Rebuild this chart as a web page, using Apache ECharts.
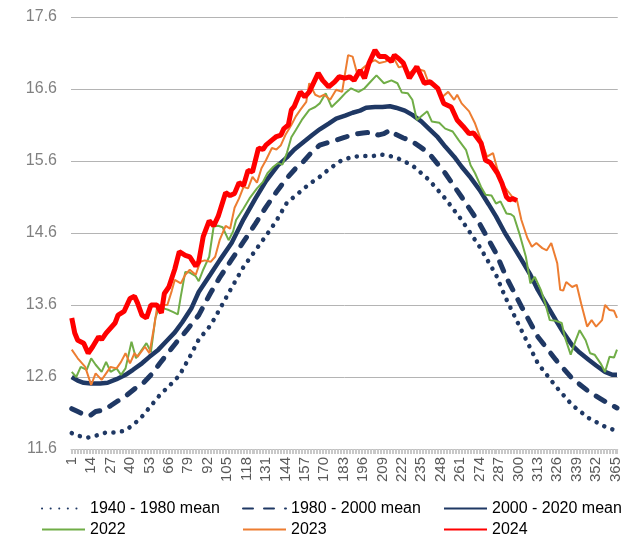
<!DOCTYPE html>
<html>
<head>
<meta charset="utf-8">
<script src="https://cdn.jsdelivr.net/npm/echarts@6/dist/echarts.min.js"></script>
<style>
  html, body { margin: 0; padding: 0; background: #fff; }
  #chart { width: 623px; height: 537px; }
</style>
</head>
<body>
<div id="chart"></div>
<script>
// y axis ticks
var yTicks = [11.6, 12.6, 13.6, 14.6, 15.6, 16.6, 17.6];

// day-of-year categories 1..366
var days = [];
for (var i = 1; i <= 366; i++) days.push(String(i));

var seriesNames = ['1940 - 1980 mean', '1980 - 2000 mean', '2000 - 2020 mean', '2022', '2023', '2024'];

// 1940 - 1980 mean
var m4080Days = [1, 6, 12, 18, 24, 30, 36, 42, 48, 54, 60, 66, 73, 80, 86, 94, 100, 108, 116, 124, 131, 138, 145, 152, 160, 167, 174, 181, 189, 196, 203, 208, 214, 220, 229, 240, 251, 262, 274, 285, 291, 302, 313, 325, 336, 347, 358, 366];
var m4080Vals = [11.82, 11.78, 11.76, 11.79, 11.83, 11.83, 11.85, 11.93, 12.05, 12.2, 12.35, 12.47, 12.62, 12.88, 13.12, 13.32, 13.54, 13.84, 14.13, 14.36, 14.56, 14.77, 15.02, 15.14, 15.28, 15.38, 15.5, 15.6, 15.66, 15.67, 15.67, 15.69, 15.67, 15.63, 15.54, 15.34, 15.08, 14.78, 14.41, 14.02, 13.72, 13.25, 12.79, 12.47, 12.21, 12.03, 11.91, 11.85];

// 1980 - 2000 mean
var m8000Days = [1, 5, 9, 13, 17, 22, 27, 32, 38, 44, 49, 55, 60, 66, 71, 78, 86, 94, 100, 108, 116, 124, 131, 138, 145, 151, 156, 162, 167, 173, 178, 184, 189, 196, 203, 206, 210, 214, 218, 223, 229, 234, 240, 251, 262, 274, 285, 292, 302, 313, 325, 336, 347, 358, 366];
var m8000Vals = [12.16, 12.12, 12.08, 12.06, 12.12, 12.14, 12.2, 12.27, 12.35, 12.45, 12.52, 12.65, 12.79, 12.95, 13.08, 13.25, 13.46, 13.77, 13.98, 14.23, 14.48, 14.73, 14.96, 15.17, 15.36, 15.5, 15.59, 15.73, 15.82, 15.86, 15.89, 15.93, 15.97, 15.99, 16.0, 15.96, 15.98, 16.03, 15.97, 15.92, 15.87, 15.8, 15.71, 15.43, 15.1, 14.73, 14.32, 13.98, 13.58, 13.16, 12.84, 12.58, 12.4, 12.26, 12.17];

// 2000 - 2020 mean
var m0020Days = [1, 5, 9, 14, 20, 25, 31, 37, 42, 48, 53, 59, 64, 70, 75, 81, 86, 94, 100, 108, 116, 124, 131, 139, 145, 150, 156, 162, 167, 173, 178, 184, 189, 194, 198, 204, 209, 214, 218, 224, 229, 235, 240, 246, 251, 257, 262, 268, 274, 280, 285, 291, 297, 302, 308, 313, 319, 325, 330, 336, 341, 347, 352, 358, 363, 366];
var m0020Vals = [12.6, 12.55, 12.52, 12.51, 12.51, 12.52, 12.57, 12.63, 12.7, 12.79, 12.88, 12.98, 13.09, 13.22, 13.36, 13.55, 13.78, 14.03, 14.22, 14.46, 14.79, 15.08, 15.32, 15.54, 15.65, 15.76, 15.86, 15.96, 16.04, 16.12, 16.19, 16.23, 16.27, 16.3, 16.34, 16.35, 16.35, 16.36, 16.34, 16.3, 16.24, 16.15, 16.05, 15.93, 15.8, 15.66, 15.52, 15.37, 15.2, 15.0, 14.83, 14.6, 14.4, 14.23, 14.02, 13.81, 13.6, 13.39, 13.22, 13.04, 12.94, 12.84, 12.76, 12.67, 12.63, 12.63];

// 2022
var y2022Days = [1, 4, 7, 11, 14, 17, 21, 24, 27, 31, 34, 37, 41, 44, 47, 51, 54, 57, 60, 63, 66, 69, 72, 74, 77, 80, 84, 86, 89, 93, 96, 99, 102, 106, 109, 111, 116, 120, 125, 129, 132, 136, 139, 142, 145, 148, 151, 155, 160, 164, 167, 171, 175, 180, 184, 188, 193, 197, 201, 205, 210, 215, 219, 222, 226, 229, 232, 236, 239, 242, 247, 251, 256, 260, 265, 268, 271, 275, 278, 282, 285, 288, 292, 295, 297, 301, 305, 308, 311, 315, 318, 321, 325, 329, 331, 335, 338, 341, 345, 348, 351, 355, 358, 361, 364, 366];
var y2022Vals = [12.67, 12.6, 12.74, 12.7, 12.86, 12.77, 12.67, 12.81, 12.67, 12.72, 12.63, 12.72, 13.09, 12.86, 12.95, 13.07, 12.95, 13.42, 13.6, 13.55, 13.53, 13.5, 13.47, 13.72, 14.06, 14.05, 14.0, 13.93, 14.09, 14.27, 14.69, 14.7, 14.68, 14.5, 14.62, 14.78, 14.94, 15.08, 15.22, 15.31, 15.43, 15.52, 15.57, 15.55, 15.71, 15.93, 16.03, 16.17, 16.31, 16.35, 16.4, 16.54, 16.35, 16.45, 16.54, 16.61, 16.56, 16.61, 16.7, 16.79, 16.68, 16.72, 16.68, 16.55, 16.54, 16.45, 16.17, 16.24, 16.29, 16.15, 16.13, 16.05, 16.01, 15.89, 15.75, 15.54, 15.43, 15.24, 15.13, 15.12, 15.01, 15.04, 14.87, 14.86, 14.83, 14.57, 14.27, 13.9, 13.99, 13.81, 13.62, 13.39, 13.38, 13.35, 13.16, 12.91, 13.09, 13.25, 13.11, 12.93, 12.91, 12.79, 12.67, 12.88, 12.87, 12.98];

// 2023
var y2023Days = [1, 5, 10, 14, 17, 21, 24, 27, 31, 34, 37, 40, 43, 45, 50, 53, 56, 58, 61, 65, 68, 70, 74, 77, 80, 84, 87, 90, 94, 97, 100, 104, 107, 110, 113, 116, 119, 122, 125, 128, 131, 135, 138, 141, 144, 148, 151, 154, 158, 160, 164, 167, 170, 174, 178, 182, 184, 186, 189, 192, 196, 200, 204, 207, 211, 216, 220, 223, 227, 231, 237, 240, 245, 249, 253, 257, 259, 262, 267, 271, 275, 279, 283, 286, 289, 293, 296, 299, 302, 306, 309, 312, 316, 319, 322, 326, 328, 330, 332, 336, 339, 342, 346, 349, 352, 356, 358, 361, 364, 366];
var y2023Vals = [12.98, 12.86, 12.74, 12.49, 12.65, 12.56, 12.65, 12.74, 12.72, 12.81, 12.93, 12.79, 12.93, 12.88, 13.02, 12.93, 13.28, 13.55, 13.6, 13.6, 13.8, 13.95, 13.9, 14.02, 14.09, 14.02, 14.2, 14.22, 14.2, 14.27, 14.5, 14.7, 14.66, 14.95, 15.08, 15.24, 15.22, 15.38, 15.3, 15.5, 15.61, 15.78, 15.76, 15.82, 15.96, 16.1, 16.22, 16.31, 16.42, 16.68, 16.52, 16.49, 16.52, 16.45, 16.59, 16.56, 16.82, 17.07, 17.05, 16.82, 16.89, 16.96, 17.0, 16.96, 16.98, 17.05, 16.9, 16.92, 16.82, 16.89, 16.85, 16.68, 16.63, 16.49, 16.56, 16.45, 16.52, 16.4, 16.29, 16.12, 15.89, 15.66, 15.71, 15.48, 15.29, 15.18, 15.1, 15.06, 14.78, 14.53, 14.41, 14.46, 14.39, 14.36, 14.46, 14.18, 13.81, 13.8, 13.92, 13.85, 13.88, 13.62, 13.3, 13.39, 13.3, 13.39, 13.6, 13.53, 13.52, 13.42];

// 2024 (to date)
var y2024Days = [1, 3, 5, 9, 12, 15, 19, 21, 24, 30, 32, 36, 40, 43, 45, 48, 51, 54, 58, 61, 63, 66, 70, 73, 77, 80, 84, 86, 89, 93, 96, 99, 104, 107, 110, 113, 116, 119, 122, 126, 129, 131, 135, 138, 141, 143, 146, 148, 150, 154, 157, 160, 166, 169, 173, 177, 180, 184, 187, 190, 194, 197, 200, 204, 207, 211, 215, 217, 220, 223, 227, 232, 237, 241, 246, 250, 255, 259, 263, 267, 270, 275, 278, 281, 286, 289, 292, 294, 296, 299];
var y2024Vals = [13.42, 13.21, 13.11, 13.07, 12.93, 13.02, 13.16, 13.12, 13.21, 13.35, 13.46, 13.51, 13.69, 13.72, 13.63, 13.46, 13.42, 13.6, 13.6, 13.49, 13.76, 13.85, 14.1, 14.34, 14.29, 14.27, 14.14, 14.2, 14.55, 14.77, 14.7, 14.83, 15.16, 15.12, 15.15, 15.3, 15.26, 15.47, 15.45, 15.78, 15.76, 15.82, 15.89, 15.94, 15.96, 16.05, 16.1, 16.31, 16.36, 16.56, 16.49, 16.56, 16.82, 16.72, 16.63, 16.7, 16.77, 16.75, 16.77, 16.72, 16.86, 16.75, 16.96, 17.14, 17.05, 17.05, 16.98, 17.07, 17.02, 16.96, 16.75, 16.91, 16.68, 16.7, 16.61, 16.4, 16.35, 16.17, 16.08, 15.98, 15.99, 15.85, 15.61, 15.58, 15.43, 15.29, 15.1, 15.06, 15.08, 15.05];

var navy = '#1f3864';
var font = 'Liberation Sans, Arial, sans-serif';

// turn day numbers into category index pairs
function pairs(dd, vv) {
  var out = [];
  for (var i = 0; i < dd.length; i++) out.push([dd[i] - 1, vv[i]]);
  return out;
}

function lineSeries(name, dd, vv, style) {
  return {
    name: name,
    type: 'line',
    symbol: 'none',
    data: pairs(dd, vv),
    lineStyle: style,
    itemStyle: { color: style.color },
    emphasis: { disabled: true }
  };
}

var chart = echarts.init(document.getElementById('chart'), null, { renderer: 'canvas' });

chart.setOption({
  animation: false,
  backgroundColor: '#ffffff',
  grid: { left: 71, right: 2, top: 17, bottom: 88 },
  legend: {
    data: seriesNames,
    left: 41,
    top: 498,
    width: 610,
    padding: 0,
    itemGap: 0,
    itemWidth: 43,
    itemHeight: 14,
    itemStyle: { opacity: 0 },  // line only, no circle marker
    textStyle: { fontFamily: font, fontSize: 16, color: '#000', width: 152, lineHeight: 21 }
  },
  xAxis: {
    type: 'category',
    data: days,
    boundaryGap: true,
    axisLine: { lineStyle: { color: '#bfbfbf', width: 1 } },
    axisTick: { show: true, interval: 0, length: 5, lineStyle: { color: '#c8c8c8' } },
    axisLabel: { interval: 12, rotate: 90, margin: 8, fontFamily: font, fontSize: 15, color: '#595959' },
    splitLine: { show: false }
  },
  yAxis: {
    type: 'value',
    min: yTicks[0],
    max: yTicks[yTicks.length - 1],
    interval: 1,
    axisLine: { show: false },
    axisTick: { show: false },
    axisLabel: {
      margin: 14,
      fontFamily: font,
      fontSize: 16,
      color: '#808080',
      formatter: function (v) { return v.toFixed(1); }
    },
    splitLine: { lineStyle: { color: '#b4b4b4', width: 1 } }
  },
  series: [
    lineSeries(seriesNames[0], m4080Days, m4080Vals, { color: navy, width: 4.5, type: [0.1, 8.5], cap: 'round' }),
    lineSeries(seriesNames[1], m8000Days, m8000Vals, { color: navy, width: 5, type: [10, 11], cap: 'round' }),
    lineSeries(seriesNames[2], m0020Days, m0020Vals, { color: navy, width: 4.5 }),
    lineSeries(seriesNames[3], y2022Days, y2022Vals, { color: '#70ad47', width: 2 }),
    lineSeries(seriesNames[4], y2023Days, y2023Vals, { color: '#ed7d31', width: 2 }),
    lineSeries(seriesNames[5], y2024Days, y2024Vals, { color: '#ff0000', width: 5 })
  ]
});
</script>
</body>
</html>
